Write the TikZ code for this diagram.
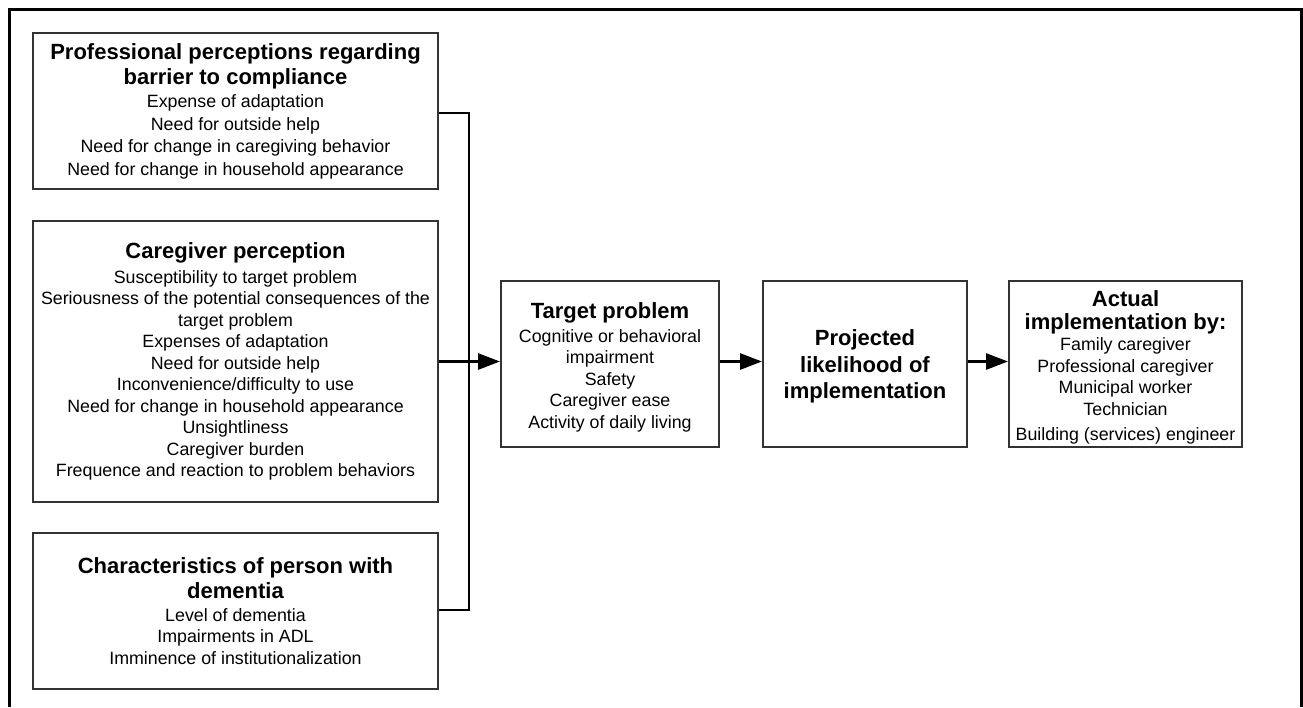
\documentclass[tikz,border=0pt]{standalone}
\usepackage{fontspec}
\setmainfont{Liberation Sans}
\usetikzlibrary{arrows.meta,positioning}

\newcommand\hdfont{\fontsize{22}{25}\selectfont\bfseries}

\begin{document}
\begin{tikzpicture}[x=1pt,y=-1pt,>={Triangle[length=22pt,width=16pt]},
  box/.style={draw=black!80,line width=2pt,align=center,inner sep=0pt,
    font=\fontsize{17.8}{21.5}\selectfont},
  flow/.style={line width=2.8pt}]
  \useasboundingbox (0,0) rectangle (1303,707);
  % Marco
  \draw[line width=3pt] (9,707) -- (9,9) -- (1301,9) -- (1301,707);

  % Cajas (izquierda)
  \node[box,minimum width=405pt,minimum height=156pt,
    font=\fontsize{17.8}{22.5}\selectfont] (prof) at (235.5,111)
    {{\hdfont Professional perceptions regarding}\\[2.5pt]
     {\hdfont barrier to compliance}\\[1pt]
     Expense of adaptation\\Need for outside help\\
     Need for change in caregiving behavior\\Need for change in household appearance};
  \node[box,minimum width=405pt,minimum height=281pt] (care) at (235.5,361.5)
    {{\hdfont Caregiver perception}\\[3pt]
     Susceptibility to target problem\\
     Seriousness of the potential consequences of the\\target problem\\
     Expenses of adaptation\\Need for outside help\\
     Inconvenience/difficulty to use\\Need for change in household appearance\\
     Unsightliness\\Caregiver burden\\Frequence and reaction to problem behaviors};
  \node[box,minimum width=405pt,minimum height=156pt] (person) at (235.5,611)
    {{\hdfont Characteristics of person with}\\[3.5pt]
     {\hdfont dementia}\\[1.5pt]
     Level of dementia\\Impairments in ADL\\Imminence of institutionalization};

  % Cajas (derecha)
  \node[box,minimum width=218pt,minimum height=166pt] (target) at (610,363.5)
    {{\hdfont\rule{0pt}{24pt}Target problem}\\[2pt]
     Cognitive or behavioral\\impairment\\Safety\\Caregiver ease\\Activity of daily living};
  \node[box,minimum width=204pt,minimum height=166pt,
    font=\fontsize{22}{26.5}\selectfont\bfseries] (likely) at (865,363.5)
    {\rule{0pt}{22pt}Projected\\likelihood of\\implementation};
  \node[box,minimum width=233pt,minimum height=166pt] (actual) at (1125.5,363.5)
    {{\hdfont\rule{0pt}{24pt}Actual}\\[1pt]
     {\hdfont implementation by:}\\
     Family caregiver\\Professional caregiver\\Municipal worker\\Technician\\[3.5pt]
     Building (services) engineer};

  % Conectores
  \coordinate (bustop) at (469,113);
  \coordinate (busbot) at (469,610);
  \draw[flow] (prof.east |- bustop) -- (bustop) -- (busbot) -- (person.east |- busbot);
  \draw[flow,->] (care.east) -- (care.east -| target.west);
  \draw[flow,->] (care.east -| target.east) -- (care.east -| likely.west);
  \draw[flow,->] (care.east -| likely.east) -- (care.east -| actual.west);
\end{tikzpicture}
\end{document}
